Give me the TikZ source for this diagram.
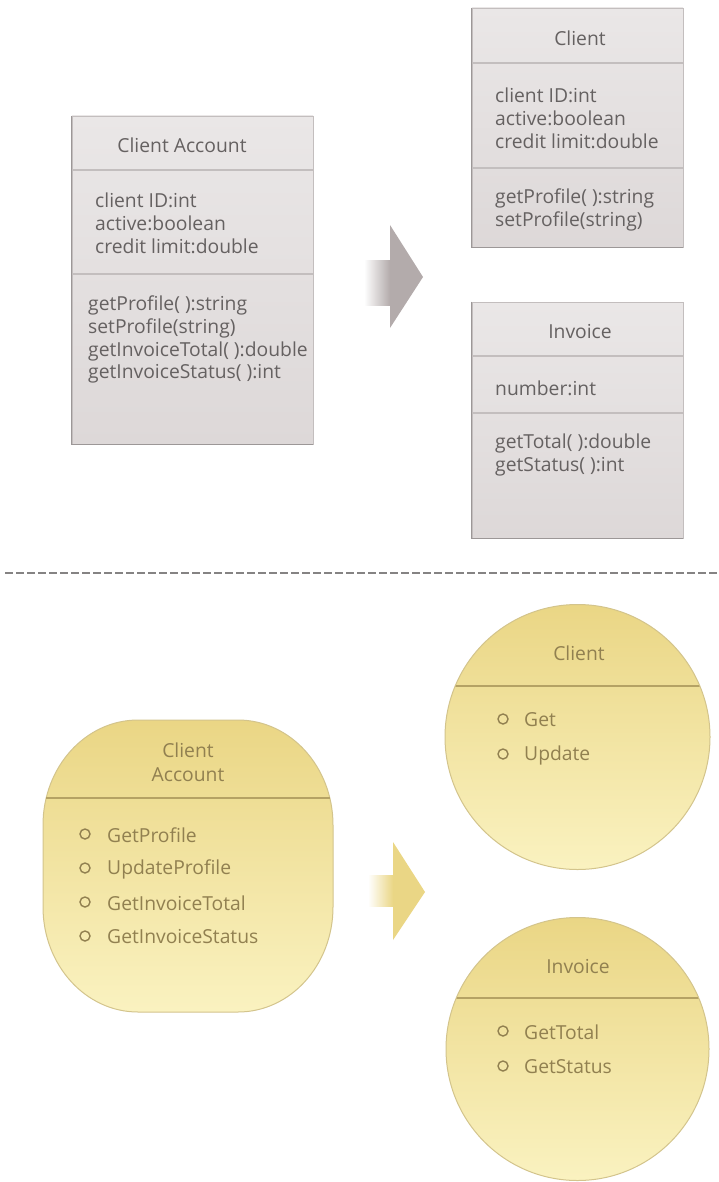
\documentclass[tikz,border=0pt]{standalone}
\usepackage{fontspec}
\setmainfont{Open Sans}
\begin{document}
\definecolor{boxfillA}{HTML}{EAE7E7}
\definecolor{boxfillB}{HTML}{DDD8D8}
\definecolor{boxrule}{HTML}{C3BEBE}
\definecolor{boxedge}{HTML}{9C9797}
\definecolor{boxtext}{HTML}{656161}
\definecolor{greyarrow}{HTML}{B3ABAB}
\definecolor{dashgrey}{HTML}{858383}
\definecolor{yelA}{HTML}{EAD685}
\definecolor{yelB}{HTML}{FAF2C0}
\definecolor{yelrule}{HTML}{B5A264}
\definecolor{yeledge}{HTML}{D3C48C}
\definecolor{yeltext}{HTML}{918050}
\begin{tikzpicture}[x=1pt,y=-1pt,
  classbox/.style={rectangle, draw=boxrule, line width=0.8pt,
    top color=boxfillA, bottom color=boxfillB, inner sep=0pt},
  sepline/.style={draw=boxrule, line width=1.4pt},
  shadowedge/.style={draw=boxedge, line width=1.6pt},
  boxtxt/.style={text=boxtext, font=\fontsize{19.3}{21}\selectfont, inner sep=0pt},
  yelshape/.style={draw=yeledge, line width=1pt, top color=yelA, bottom color=yelB},
  yelsep/.style={draw=yelrule, line width=1.4pt},
  yeltxt/.style={text=yeltext, font=\fontsize{19.3}{21}\selectfont, inner sep=0pt},
  bullet/.style={circle, draw=yeltext, line width=1.4pt, minimum size=10pt, inner sep=0pt},
]
\useasboundingbox (0,0) rectangle (718,1182);

% ---------- class diagrams (top half) ----------
% Client Account
\node[classbox, minimum width=241pt, minimum height=328pt] (ca) at (192.5,280) {};
\draw[sepline] (ca.west |- 0,170) -- (ca.east |- 0,170);
\draw[sepline] (ca.west |- 0,274) -- (ca.east |- 0,274);
\draw[shadowedge] (ca.north west) -- (ca.south west) -- (ca.south east);
\node[boxtxt] (ca-t) at (182,145) {Client Account};
\node[boxtxt, anchor=west] (ca-a1) at (95,200) {client ID:int};
\node[boxtxt, anchor=west] (ca-a2) at (95,223) {active:boolean};
\node[boxtxt, anchor=west] (ca-a3) at (95,246) {credit limit:double};
\node[boxtxt, anchor=west] (ca-m1) at (88,305) {getProfile( ):string};
\node[boxtxt, anchor=west] (ca-m2) at (88,328) {setProfile(string)};
\node[boxtxt, anchor=west] (ca-m3) at (88,351) {getInvoiceTotal( ):double};
\node[boxtxt, anchor=west] (ca-m4) at (88,374) {getInvoiceStatus( ):int};

% Client
\node[classbox, minimum width=211pt, minimum height=239pt] (cl) at (577.5,127.5) {};
\draw[sepline] (cl.west |- 0,63) -- (cl.east |- 0,63);
\draw[sepline] (cl.west |- 0,168) -- (cl.east |- 0,168);
\draw[shadowedge] (cl.north west) -- (cl.south west) -- (cl.south east);
\node[boxtxt] (cl-t) at (580,38) {Client};
\node[boxtxt, anchor=west] (cl-a1) at (495,95) {client ID:int};
\node[boxtxt, anchor=west] (cl-a2) at (495,118) {active:boolean};
\node[boxtxt, anchor=west] (cl-a3) at (495,141) {credit limit:double};
\node[boxtxt, anchor=west] (cl-m1) at (495,198) {getProfile( ):string};
\node[boxtxt, anchor=west] (cl-m2) at (495,221) {setProfile(string)};

% Invoice
\node[classbox, minimum width=211pt, minimum height=236pt] (iv) at (577.5,420) {};
\draw[sepline] (iv.west |- 0,356) -- (iv.east |- 0,356);
\draw[sepline] (iv.west |- 0,413) -- (iv.east |- 0,413);
\draw[shadowedge] (iv.north west) -- (iv.south west) -- (iv.south east);
\node[boxtxt] (iv-t) at (580,332) {Invoice};
\node[boxtxt, anchor=west] (iv-a1) at (495,388) {number:int};
\node[boxtxt, anchor=west] (iv-m1) at (495,443) {getTotal( ):double};
\node[boxtxt, anchor=west] (iv-m2) at (495,467) {getStatus( ):int};

% grey split arrow
\shade[left color=white, right color=greyarrow] (364,260) rectangle (390,305);
\fill[greyarrow] (390,225) -- (423,277) -- (390,328) -- cycle;

% ---------- separator ----------
\draw[dashgrey, line width=2.2pt, dash pattern=on 7.5pt off 3.5pt] (5,573) -- (718,573);

% ---------- component diagrams (bottom half) ----------
% Client Account pill
\path[yelshape] (43,825) arc[start angle=180, end angle=270, x radius=95, y radius=105]
  -- (238,720) arc[start angle=270, end angle=360, x radius=95, y radius=105]
  -- (333,907) arc[start angle=0, end angle=90, x radius=95, y radius=105]
  -- (138,1012) arc[start angle=90, end angle=180, x radius=95, y radius=105]
  -- cycle;
\draw[yelsep] (46,798) -- (330,798);
\node[yeltxt] (pa-t1) at (188,750) {Client};
\node[yeltxt] (pa-t2) at (188,775) {Account};
\node[bullet] (pa-b1) at (85,834) {};
\node[bullet] (pa-b2) at (85,868) {};
\node[bullet] (pa-b3) at (85,902) {};
\node[bullet] (pa-b4) at (85,936) {};
\node[yeltxt, anchor=west] (pa-i1) at (107,835) {GetProfile};
\node[yeltxt, anchor=west] (pa-i2) at (107,869) {UpdateProfile};
\node[yeltxt, anchor=west] (pa-i3) at (107,903) {GetInvoiceTotal};
\node[yeltxt, anchor=west] (pa-i4) at (107,937) {GetInvoiceStatus};

% Client circle
\node[yelshape, circle, minimum size=265pt, inner sep=0pt] (cc) at (577.5,737) {};
\begin{scope}
  \clip (cc.center) circle[radius=132pt];
  \draw[yelsep] (440,686) -- (715,686);
\end{scope}
\node[yeltxt] (cc-t) at (579,653) {Client};
\node[bullet] (cc-b1) at (503,719) {};
\node[bullet] (cc-b2) at (503,754) {};
\node[yeltxt, anchor=west] (cc-i1) at (524,720) {Get};
\node[yeltxt, anchor=west] (cc-i2) at (524,755) {Update};

% Invoice circle
\node[yelshape, circle, minimum size=263pt, inner sep=0pt] (ic) at (577.5,1049) {};
\begin{scope}
  \clip (ic.center) circle[radius=131pt];
  \draw[yelsep] (440,998) -- (715,998);
\end{scope}
\node[yeltxt] (ic-t) at (578,967) {Invoice};
\node[bullet] (ic-b1) at (503,1031) {};
\node[bullet] (ic-b2) at (503,1066) {};
\node[yeltxt, anchor=west] (ic-i1) at (524,1032) {GetTotal};
\node[yeltxt, anchor=west] (ic-i2) at (524,1067) {GetStatus};

% yellow split arrow
\shade[left color=white, right color=yelA] (368,875) rectangle (393,906);
\fill[yelA] (393,842) -- (425,892) -- (393,940) -- cycle;
\end{tikzpicture}
\end{document}
